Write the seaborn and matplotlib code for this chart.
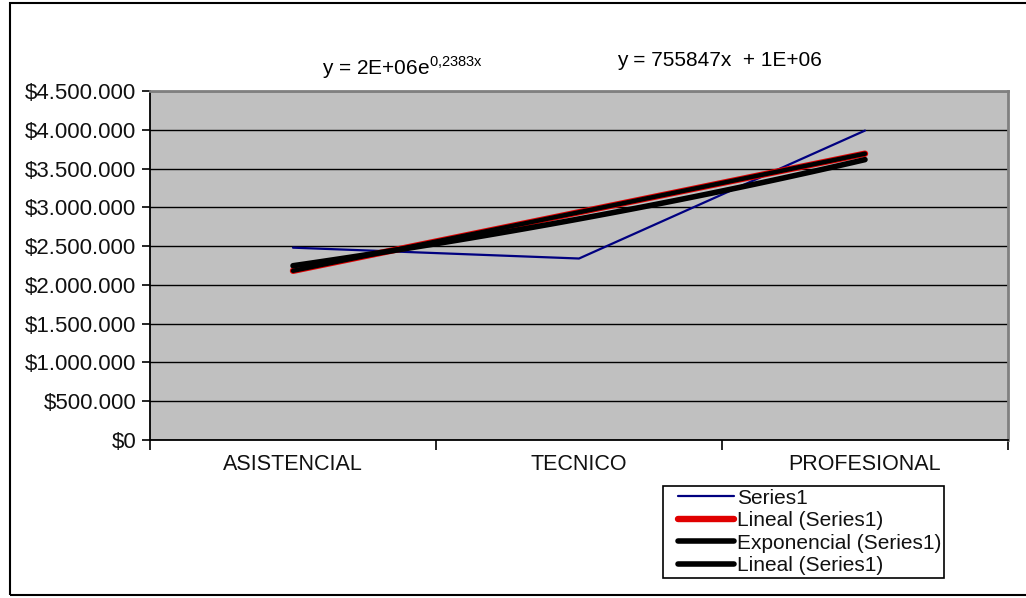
import numpy as np
import pandas as pd
import matplotlib
matplotlib.use("Agg")
import matplotlib.pyplot as plt
import seaborn as sns
from matplotlib.ticker import FuncFormatter, FixedLocator
from matplotlib.patches import Rectangle
from matplotlib.lines import Line2D
from matplotlib.legend_handler import HandlerLine2D

categories = ["ASISTENCIAL", "TECNICO", "PROFESIONAL"]
values = [2480000, 2340000, 3990000]
legend_labels = ["Series1", "Lineal (Series1)", "Exponencial (Series1)", "Lineal (Series1)"]
eq_exp = r"y = 2E+06e$^{\mathregular{0{,}2383x}}$"
eq_lin = "y = 755847x  + 1E+06"

sns.set_theme(style="white")
plt.rcParams["font.family"] = ["Liberation Sans", "DejaVu Sans"]
plt.rcParams["mathtext.fontset"] = "custom"
plt.rcParams["mathtext.rm"] = "Liberation Sans"

x = np.arange(1, len(categories) + 1)
y = np.array(values, dtype=float)
df = pd.DataFrame({"x": x, "y": y})

# trendlines from data
m, b = np.polyfit(x, y, 1)
k, lna = np.polyfit(x, np.log(y), 1)
xs = np.linspace(1, 3, 100)
lin_df = pd.DataFrame({"x": xs, "y": m * xs + b})
exp_df = pd.DataFrame({"x": xs, "y": np.exp(lna) * np.exp(k * xs)})

fig = plt.figure(figsize=(10.26, 5.98), dpi=100)
ax = fig.add_axes([150/1026, 1 - 440/598, (1008-150)/1026, (440-91)/598])
ax.set_facecolor("#C0C0C0")

sns.lineplot(data=df, x="x", y="y", ax=ax, color="#000080", lw=1.6, zorder=3)
sns.lineplot(data=lin_df, x="x", y="y", ax=ax, color="#E00000", lw=4.6, zorder=4,
             solid_capstyle="round")
sns.lineplot(data=exp_df, x="x", y="y", ax=ax, color="black", lw=4.0, zorder=5,
             solid_capstyle="round")
sns.lineplot(data=lin_df, x="x", y="y", ax=ax, color="black", lw=3.2, zorder=6,
             solid_capstyle="round")

ax.set_xlim(0.5, 3.5)
ax.set_ylim(0, 4500000)
ax.set_xlabel("")
ax.set_ylabel("")

ax.yaxis.set_major_locator(FixedLocator(np.arange(0, 4500001, 500000)))
ax.yaxis.set_major_formatter(FuncFormatter(lambda v, p: "$" + f"{v:,.0f}".replace(",", ".")))
ax.grid(axis="y", color="black", lw=1.0, zorder=1)
ax.set_axisbelow(True)

ax.xaxis.set_major_locator(FixedLocator([0.5, 1.5, 2.5, 3.5]))
ax.xaxis.set_major_formatter(FuncFormatter(lambda v, p: ""))
ax.xaxis.set_minor_locator(FixedLocator(list(x)))
ax.set_xticklabels(categories, minor=True)
ax.tick_params(axis="x", which="major", direction="out", length=7, width=1.2, color="black", bottom=True)
ax.tick_params(axis="x", which="minor", length=0, labelsize=15.5, pad=10, labelcolor="#111111")
ax.tick_params(axis="y", which="major", direction="out", length=6, width=1.2, color="black",
               left=True, labelsize=16, pad=4, labelcolor="#111111")

for s in ["left", "bottom"]:
    ax.spines[s].set_color("black")
    ax.spines[s].set_linewidth(1.3)
for s in ["top", "right"]:
    ax.spines[s].set_color("#808080")
    ax.spines[s].set_linewidth(2.0)

fig.text(402/1026, 1 - 68/598, eq_exp, ha="center", va="center", fontsize=15, color="black")
fig.text(719/1026, 1 - 60/598, eq_lin, ha="center", va="center", fontsize=15, color="black")

handles = [
    Line2D([], [], color="#000080", lw=1.6),
    Line2D([], [], color="#E00000", lw=4.6, solid_capstyle="round"),
    Line2D([], [], color="black", lw=4.0, solid_capstyle="round"),
    Line2D([], [], color="black", lw=4.0, solid_capstyle="round"),
]
hmap = {h: HandlerLine2D(xpad=0.6) for h in handles}
leg = fig.legend(handles, legend_labels, loc="upper left",
                 bbox_to_anchor=(663/1026, 1 - 486/598), fontsize=15,
                 frameon=True, fancybox=False, shadow=False, framealpha=1,
                 edgecolor="black", handlelength=3.3, handletextpad=0.12,
                 labelspacing=0.17, borderpad=0.12, borderaxespad=0,
                 handler_map=hmap)
leg.get_frame().set_linewidth(1.2)
for t in leg.get_texts():
    t.set_color("#111111")

border = Rectangle((10/1026, 3/598), 1.1, 1 - 6/598, transform=fig.transFigure,
                   fill=False, edgecolor="black", lw=1.5)
fig.patches.append(border)

fig.savefig("out.png", dpi=100, facecolor="white")
